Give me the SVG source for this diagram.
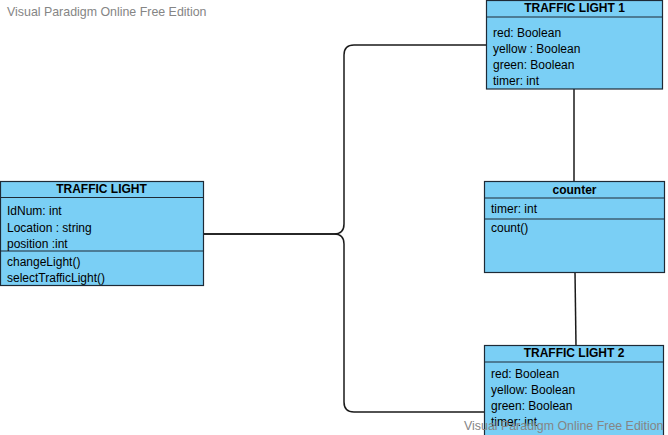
<svg xmlns="http://www.w3.org/2000/svg" width="668" height="435" viewBox="0 0 668 435">
<style>
.box{fill:#7acff5;stroke:#1e2a36;stroke-width:1.2}
.sep{stroke:#1e2a36;stroke-width:1.2}
.t{font-family:"Liberation Sans",Arial,sans-serif;font-size:12px;fill:#000}
.h{font-family:"Liberation Sans",Arial,sans-serif;font-size:12px;font-weight:bold;fill:#000;text-anchor:middle}
.wm{font-family:"Liberation Sans",Arial,sans-serif;font-size:12.4px;fill:#858585}
.c{fill:none;stroke:#1a1a1a;stroke-width:1.5}
</style>
<rect width="668" height="435" fill="#fff"/>
<text class="wm" x="7" y="16">Visual Paradigm Online Free Edition</text>
<g id="connectors">
<path class="c" d="M203,234 H334 Q344,234 344,224 V55 Q344,45 354,45 H486"/>
<path class="c" d="M203,234 H334 Q344,234 344,244 V402 Q344,412 354,412 H484"/>
<path class="c" d="M574,89 V181"/>
<path class="c" d="M575,272 L576,346"/>
</g>
<g id="traffic-light">
<rect class="box" x="0.5" y="181.5" width="203" height="104"/>
<line class="sep" x1="0.5" y1="197.5" x2="203.5" y2="197.5"/>
<line class="sep" x1="0.5" y1="251" x2="203.5" y2="251"/>
<text class="h" x="101.5" y="193">TRAFFIC LIGHT</text>
<text class="t" x="7" y="215">IdNum: int</text>
<text class="t" x="7" y="231.5">Location : string</text>
<text class="t" x="7" y="247.5">position :int</text>
<text class="t" x="7" y="265.5">changeLight()</text>
<text class="t" x="7" y="281.5">selectTrafficLight()</text>
</g>
<g id="traffic-light-1">
<rect class="box" x="486.5" y="0.5" width="176" height="88.5"/>
<line class="sep" x1="486.5" y1="17" x2="662.5" y2="17"/>
<text class="h" x="574.5" y="12">TRAFFIC LIGHT 1</text>
<text class="t" x="493" y="37">red: Boolean</text>
<text class="t" x="493" y="53">yellow : Boolean</text>
<text class="t" x="493" y="69">green: Boolean</text>
<text class="t" x="493" y="85">timer: int</text>
</g>
<g id="counter">
<rect class="box" x="484.5" y="181.5" width="180" height="91"/>
<line class="sep" x1="484.5" y1="198" x2="664.5" y2="198"/>
<line class="sep" x1="484.5" y1="219" x2="664.5" y2="219"/>
<text class="h" x="574.5" y="193.5">counter</text>
<text class="t" x="491" y="213">timer: int</text>
<text class="t" x="491" y="231.5">count()</text>
</g>
<g id="traffic-light-2">
<rect class="box" x="484.5" y="345.5" width="179" height="95"/>
<line class="sep" x1="484.5" y1="362" x2="663.5" y2="362"/>
<text class="h" x="574" y="357">TRAFFIC LIGHT 2</text>
<text class="t" x="491" y="378">red: Boolean</text>
<text class="t" x="491" y="394">yellow: Boolean</text>
<text class="t" x="491" y="410">green: Boolean</text>
<text class="t" x="491" y="426">timer: int</text>
</g>
<text class="wm" x="464" y="430">Visual Paradigm Online Free Edition</text>
</svg>
